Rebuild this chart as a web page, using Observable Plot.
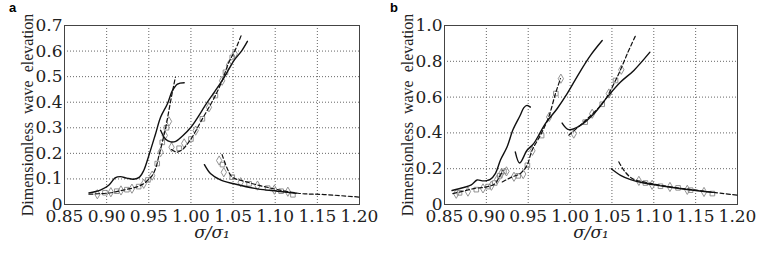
<!DOCTYPE html>
<html>
<head>
<meta charset="utf-8">
<script src="https://cdn.jsdelivr.net/npm/d3@7"></script>
<script src="https://cdn.jsdelivr.net/npm/@observablehq/plot@0.6"></script>
<style>
  body { margin: 0; background: #fff; }
  #wrap { position: relative; width: 763px; height: 260px; display: flex; }
  .tag { position: absolute; top: 0px; font: bold 13px "Liberation Sans", Arial, sans-serif; }
</style>
</head>
<body>
<div id="wrap">
  <div class="tag" style="left:9px">a</div>
  <div class="tag" style="left:390px">b</div>
</div>
<script>
// ---------- shared axis data ----------
const xTicks = [0.85, 0.90, 0.95, 1.00, 1.05, 1.10, 1.15, 1.20];
const aYTicks = [0, 0.1, 0.2, 0.3, 0.4, 0.5, 0.6, 0.7];
const bYTicks = [0, 0.2, 0.4, 0.6, 0.8, 1.0];
const yLabel = "Dimensionless  wave  elevation";
const xLabel = "σ/σ₁";

// ---------- panel a ----------
const aSolid1 = [[0.879,0.045],[0.8925,0.056],[0.9025,0.075],[0.910,0.104],[0.9163,0.109],[0.924,0.103],[0.932,0.099],[0.939,0.107],[0.944,0.133],[0.950,0.191],[0.958,0.276],[0.964,0.341],[0.972,0.393],[0.978,0.445],[0.984,0.471],[0.992,0.476]];
const aDash1 = [[0.879,0.040],[0.890,0.042],[0.905,0.046],[0.915,0.053],[0.925,0.060],[0.935,0.068],[0.944,0.081],[0.949,0.096],[0.954,0.113],[0.958,0.140],[0.962,0.190],[0.966,0.243],[0.970,0.300],[0.974,0.370],[0.978,0.440],[0.9815,0.497]];
const aMarks1 = [[0.889,0.040],[0.898,0.046],[0.905,0.048],[0.912,0.052],[0.917,0.055],[0.924,0.058],[0.930,0.062],[0.938,0.070],[0.944,0.081],[0.949,0.096],[0.954,0.113],[0.960,0.160],[0.964,0.205],[0.966,0.243],[0.969,0.270],[0.971,0.300],[0.974,0.325]];
const aSolid2 = [[0.964,0.290],[0.970,0.255],[0.976,0.245],[0.982,0.247],[0.990,0.268],[1.000,0.302],[1.0195,0.400],[1.037,0.484],[1.051,0.5625],[1.060,0.600],[1.067,0.638]];
const aDash2 = [[0.977,0.215],[0.983,0.205],[0.990,0.215],[1.000,0.256],[1.0136,0.335],[1.0214,0.380],[1.029,0.426],[1.037,0.484],[1.045,0.556],[1.052,0.600],[1.060,0.664]];
const aMarks2 = [[0.977,0.224],[0.986,0.220],[0.992,0.239],[1.000,0.256],[1.0056,0.289],[1.0136,0.335],[1.0214,0.380],[1.029,0.426],[1.037,0.484],[1.041,0.517],[1.045,0.545],[1.049,0.575],[1.052,0.589]];
const aSolid3 = [[1.016,0.156],[1.0235,0.120],[1.035,0.096],[1.051,0.081],[1.079,0.061],[1.1028,0.052],[1.1247,0.044]];
const aDash3 = [[1.037,0.195],[1.0433,0.139],[1.049,0.107],[1.063,0.091],[1.087,0.070],[1.127,0.044],[1.158,0.039],[1.200,0.029]];
const aMarks3 = [[1.0335,0.172],[1.0375,0.156],[1.039,0.126],[1.049,0.107],[1.059,0.087],[1.069,0.081],[1.079,0.074],[1.091,0.064],[1.099,0.058],[1.107,0.052],[1.115,0.050],[1.121,0.038]];

// ---------- panel b ----------
const bSolid1 = [[0.859,0.078],[0.873,0.095],[0.882,0.110],[0.889,0.137],[0.895,0.132],[0.900,0.133],[0.9047,0.140],[0.9107,0.173],[0.917,0.250],[0.9247,0.321],[0.932,0.420],[0.9406,0.500],[0.9446,0.540],[0.9486,0.554],[0.9526,0.544]];
const bDash1 = [[0.860,0.061],[0.873,0.075],[0.885,0.089],[0.900,0.098],[0.910,0.115],[0.915,0.150],[0.920,0.190]];
const bMarks1 = [[0.864,0.060],[0.868,0.065],[0.878,0.072],[0.888,0.083],[0.896,0.090],[0.902,0.100],[0.906,0.105],[0.910,0.120],[0.913,0.140],[0.916,0.160],[0.918,0.175],[0.921,0.185],[0.924,0.185]];
const bDash2 = [[0.919,0.126],[0.9307,0.154],[0.9406,0.173],[0.9486,0.219],[0.9546,0.303],[0.9646,0.387],[0.9745,0.489],[0.9825,0.619],[0.9885,0.703]];
const bMarks2 = [[0.933,0.155],[0.938,0.160],[0.944,0.170],[0.949,0.219],[0.955,0.300],[0.966,0.385],[0.975,0.489],[0.983,0.620],[0.989,0.703]];
const bSolid2 = [[0.9346,0.293],[0.9398,0.232],[0.9486,0.303],[0.9565,0.340],[0.9705,0.452],[0.9845,0.535],[0.9965,0.619],[1.0104,0.730],[1.0244,0.833],[1.0384,0.916]];
const bSolid3 = [[0.9905,0.455],[0.9985,0.418],[1.0124,0.442],[1.0284,0.507],[1.0444,0.600],[1.0603,0.684],[1.0762,0.749],[1.0954,0.851]];
const bDash3 = [[0.9985,0.387],[1.0184,0.469],[1.0384,0.563],[1.0463,0.620],[1.0543,0.693],[1.0603,0.753],[1.0683,0.842],[1.0783,0.944]];
const bMarks3 = [[1.0044,0.396],[1.018,0.460],[1.0264,0.507],[1.0384,0.560],[1.0463,0.620],[1.0543,0.693],[1.0612,0.753]];
const bSolid4 = [[1.0492,0.200],[1.0603,0.163],[1.0723,0.139],[1.0882,0.120],[1.1122,0.102],[1.140,0.084],[1.170,0.068]];
const bDash4 = [[1.0583,0.238],[1.0643,0.191],[1.0743,0.145],[1.0882,0.126],[1.1122,0.104],[1.140,0.086],[1.184,0.061],[1.200,0.052]];
const bMarks4 = [[1.0822,0.132],[1.090,0.120],[1.098,0.110],[1.108,0.102],[1.1193,0.098],[1.129,0.093],[1.140,0.082],[1.144,0.080],[1.160,0.070],[1.170,0.061]];

const X = d => d[0], Y = d => d[1];

function panel({width, marginRight, yDomain, yTicks, yFmt, solids, dashes, marks}) {
  const m = [
    Plot.gridX(xTicks, {stroke: "#666", strokeOpacity: 1, strokeDasharray: "1,2"}),
    Plot.gridY(yTicks, {stroke: "#666", strokeOpacity: 1, strokeDasharray: "1,2"}),
    Plot.frame({stroke: "#444"}),
    Plot.axisX(xTicks, {tickSize: 0, tickPadding: 5, tickFormat: d3.format(".2f"), label: null, fontSize: 17}),
    Plot.axisY(yTicks, {tickSize: 0, tickPadding: 2, tickFormat: yFmt, label: null, fontSize: 17}),
    Plot.text([xLabel], {frameAnchor: "bottom", dy: 33, fontStyle: "italic", fontSize: 17}),
    Plot.text([yLabel], {frameAnchor: "left", dx: -37, rotate: -90, textAnchor: "middle", fontFamily: "Liberation Serif", fontSize: 16})
  ];
  for (const s of marks) {
    m.push(Plot.dot(s.filter((d, i) => i % 2 === 0), {x: X, y: Y, symbol: "diamond", r: 2.8, stroke: "#888", strokeWidth: 0.9, fill: "none"}));
    m.push(Plot.dot(s.filter((d, i) => i % 2 === 1), {x: X, y: Y, symbol: "square", r: 2.6, stroke: "#888", strokeWidth: 0.9, fill: "none"}));
  }
  for (const s of dashes) m.push(Plot.line(s, {x: X, y: Y, stroke: "#111", strokeWidth: 1.2, strokeDasharray: "4,2.5", curve: "catmull-rom"}));
  for (const s of solids) m.push(Plot.line(s, {x: X, y: Y, stroke: "#111", strokeWidth: 1.4, curve: "catmull-rom"}));
  return Plot.plot({
    width, height: 260,
    marginLeft: 64, marginRight, marginTop: 25, marginBottom: 56,
    style: {fontFamily: "DejaVu Serif", fontSize: "17px", color: "#222", background: "transparent", overflow: "visible"},
    x: {domain: [0.85, 1.2]},
    y: {domain: yDomain},
    marks: m
  });
}

const wrap = document.getElementById("wrap");
wrap.appendChild(panel({
  width: 380, marginRight: 21, yDomain: [0, 0.7], yTicks: aYTicks,
  yFmt: d => d === 0 ? "0" : d3.format(".1f")(d),
  solids: [aSolid1, aSolid2, aSolid3], dashes: [aDash1, aDash2, aDash3], marks: [aMarks1, aMarks2, aMarks3]
}));
wrap.appendChild(panel({
  width: 383, marginRight: 26, yDomain: [0, 1.0], yTicks: bYTicks,
  yFmt: d => d === 0 ? "0" : d3.format(".1f")(d),
  solids: [bSolid1, bSolid2, bSolid3, bSolid4], dashes: [bDash1, bDash2, bDash3, bDash4], marks: [bMarks1, bMarks2, bMarks3, bMarks4]
}));
</script>
</body>
</html>
